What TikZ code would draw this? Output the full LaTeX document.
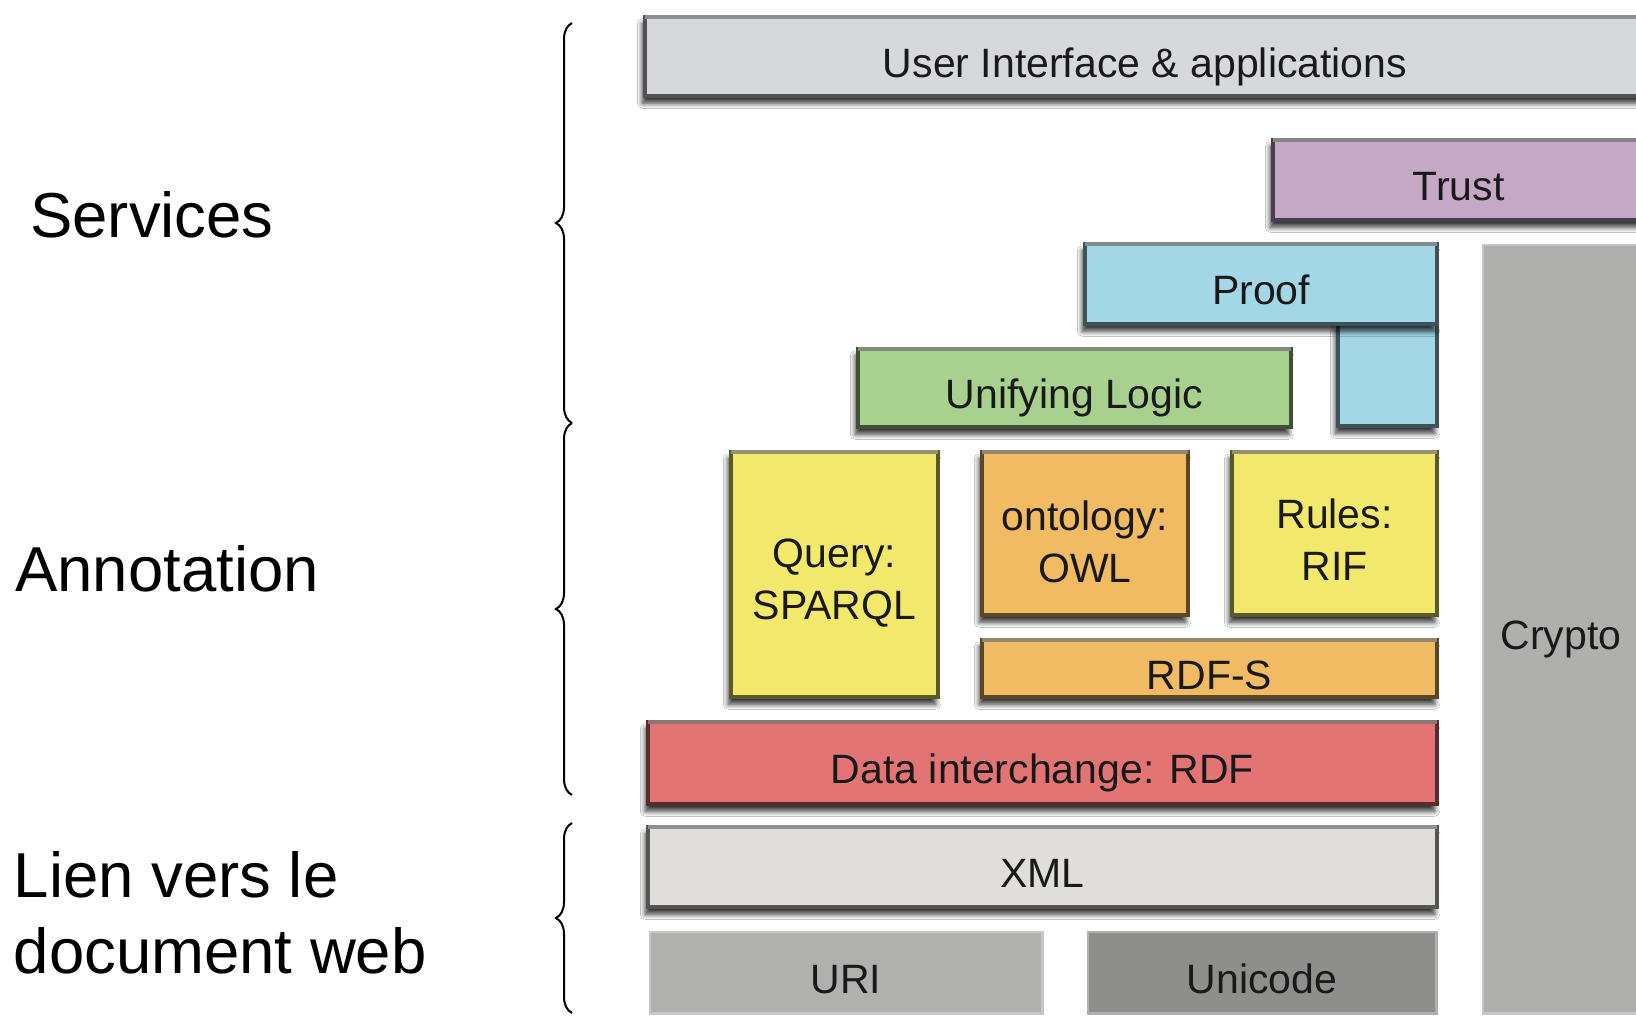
\documentclass[tikz,border=0pt]{standalone}
\usepackage{fontspec}
\setmainfont{Liberation Sans}
\usetikzlibrary{shadows.blur,decorations.pathreplacing}

% layer colours of the stack
\definecolor{cUI}{HTML}{D7D8DC}
\definecolor{cTrust}{HTML}{C4A8C6}
\definecolor{cProof}{HTML}{A3D7E6}
\definecolor{cLogic}{HTML}{A8D190}
\definecolor{cYellow}{HTML}{F2E96C}
\definecolor{cOrange}{HTML}{F0BB63}
\definecolor{cRed}{HTML}{E27473}
\definecolor{cXML}{HTML}{E0DEDB}
\definecolor{cCrypto}{HTML}{AFB0AE}
\definecolor{cURI}{HTML}{B0B1AF}
\definecolor{cUnicode}{HTML}{8E8F8C}

% \layerbox{name}{style}{x1}{y1}{x2}{y2}: a box given by its outer edges
\newcommand\layerbox[6]{%
  \node[#2, minimum width={#5-#3-3.5}, minimum height={#6-#4-3.5}]
    (#1) at ({(#3+#5)/2},{(#4+#6)/2}) {};}

\begin{document}
\begin{tikzpicture}[x=1pt,y=-1pt,
  layer/.style={rectangle, inner sep=0pt, outer sep=0pt, fill=#1,
    draw=#1!38!black, line width=4pt,
    blur shadow={shadow xshift=-2.5pt, shadow yshift=-7pt,
      shadow blur radius=5pt, shadow blur steps=8, shadow opacity=80}},
  flat/.style={rectangle, inner sep=0pt, outer sep=0pt, fill=#1,
    draw=#1!70!white, line width=2.5pt},
  topedge/.style={white, opacity=.35, line width=4pt},
  txt/.style={font=\fontsize{41}{52}\selectfont, text=black!90,
    inner sep=0pt, text height=29.4pt, text depth=0pt},
  txttwo/.style={font=\fontsize{41}{52}\selectfont, text=black!90,
    inner sep=0pt, align=center},
  side/.style={font=\fontsize{63.5}{76}\selectfont, inner sep=0pt,
    anchor=base west, align=left},
  grp/.style={decorate, decoration={brace, amplitude=16pt}, line width=2pt},
]
\useasboundingbox (0,0) rectangle (1636,1017);
\fill[white] (0,0) rectangle (1636,1017);
\clip (0,0) rectangle (1636,1017);

% ---- the layer stack ----
\layerbox{ui}{layer=cUI}{643}{15}{1647}{98}
\layerbox{trust}{layer=cTrust}{1271}{138}{1646}{222}
\layerbox{crypto}{flat=cCrypto}{1481}{243}{1641}{1015}
\layerbox{proofext}{layer=cProof}{1336}{322}{1439}{428}
\layerbox{proof}{layer=cProof}{1083}{242}{1439}{326}
\layerbox{logic}{layer=cLogic}{856}{347}{1293}{429}
\layerbox{query}{layer=cYellow}{729}{450}{940}{699}
\layerbox{owl}{layer=cOrange}{980}{450}{1190}{617}
\layerbox{rules}{layer=cYellow}{1230}{450}{1439}{617}
\layerbox{rdfs}{layer=cOrange}{980}{638}{1439}{699}
\layerbox{rdf}{layer=cRed}{646}{720}{1439}{806}
\layerbox{xml}{layer=cXML}{646}{825}{1439}{909}
\layerbox{uri}{flat=cURI}{648}{930}{1044}{1015}
\layerbox{unicode}{flat=cUnicode}{1086}{930}{1438}{1015}

% lighter top edge of the shaded layers
\foreach \n in {ui,trust,proof,logic,query,owl,rules,rdfs,rdf,xml}
  \draw[topedge] (\n.north west) -- (\n.north east);

% ---- layer labels ----
\node[txt] (ui-t) at ([yshift=-6pt]ui.center) {User Interface \& applications};
\node[txt] (trust-t) at ([yshift=-6pt]trust.center) {Trust};
\node[txt] (crypto-t) at ([yshift=-6pt]crypto.center) {Crypto};
\node[txt] (proof-t) at ([yshift=-6pt]proof.center) {Proof};
\node[txt] (logic-t) at ([yshift=-6pt]logic.center) {Unifying Logic};
\node[txttwo] (query-t) at ([yshift=-9pt]query.center) {Query:\\SPARQL};
\node[txttwo] (owl-t) at ([yshift=-8pt]owl.center) {ontology:\\OWL};
\node[txttwo] (rules-t) at ([yshift=-6pt]rules.center) {Rules:\\RIF};
\node[txt] (rdfs-t) at ([yshift=-6pt]rdfs.center) {RDF-S};
\node[txt] (rdf-t) at ([yshift=-6pt]rdf.center) {Data interchange: RDF};
\node[txt] (xml-t) at ([yshift=-6pt]xml.center) {XML};
\node[txt] (uri-t) at ([yshift=-6pt]uri.center) {URI};
\node[txt] (unicode-t) at ([yshift=-6pt]unicode.center) {Unicode};

% ---- group labels and braces ----
\node[side] (services) at (30,237) {Services};
\node[side] (annotation) at (15,591) {Annotation};
\node[side] (lien) at (13.5,973) {Lien vers le\\document web};

\coordinate (g1top) at (572,23);
\coordinate (g1bot) at (572,423);
\coordinate (g2top) at (572,423);
\coordinate (g2bot) at (572,795);
\coordinate (g3top) at (572,823);
\coordinate (g3bot) at (572,1013);
\draw[grp] (g1bot) -- (g1top);
\draw[grp] (g2bot) -- (g2top);
\draw[grp] (g3bot) -- (g3top);
\end{tikzpicture}
\end{document}
